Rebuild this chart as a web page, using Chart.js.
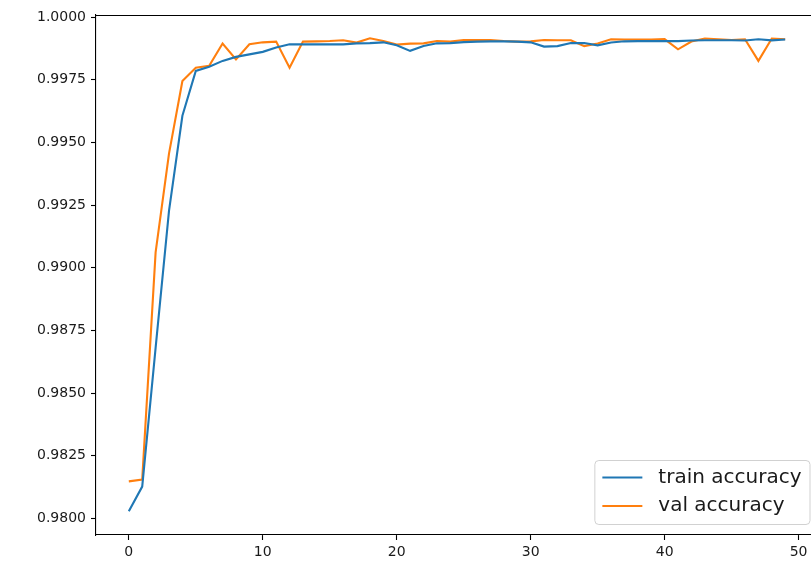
<!DOCTYPE html>
<html>
<head>
<meta charset="utf-8">
<script src="https://cdn.jsdelivr.net/npm/chart.js@4"></script>
<style>
  html, body { margin: 0; padding: 0; background: #fff; overflow: hidden; }
  #wrap { width: 830px; height: 570px; }
</style>
</head>
<body>
<div id="wrap"><canvas id="accChart" width="830" height="570"></canvas></div>
<script>
const epochs = [];
for (let i = 0; i < 50; i++) epochs.push(i);

const trainAcc = [
  0.98029, 0.98127, 0.98680, 0.99227, 0.99606, 0.99785, 0.99802, 0.99825, 0.99841, 0.99851,
  0.99861, 0.99878, 0.99891, 0.99891, 0.99891, 0.99891, 0.99891, 0.99895, 0.99896, 0.99899,
  0.99887, 0.99865, 0.99884, 0.99895, 0.99896, 0.99900, 0.99902, 0.99903, 0.99903, 0.99902,
  0.99899, 0.99882, 0.99884, 0.99896, 0.99896, 0.99887, 0.99898, 0.99903, 0.99904, 0.99904,
  0.99904, 0.99904, 0.99906, 0.99907, 0.99907, 0.99907, 0.99906, 0.99911, 0.99907, 0.99910
];

const valAcc = [
  0.98148, 0.98155, 0.99061, 0.99455, 0.99745, 0.99798, 0.99805, 0.99894, 0.99831, 0.99891,
  0.99899, 0.99902, 0.99798, 0.99902, 0.99903, 0.99904, 0.99907, 0.99898, 0.99915, 0.99904,
  0.99890, 0.99894, 0.99895, 0.99904, 0.99902, 0.99908, 0.99908, 0.99908, 0.99904, 0.99902,
  0.99903, 0.99908, 0.99907, 0.99907, 0.99884, 0.99894, 0.99911, 0.99910, 0.99910, 0.99910,
  0.99912, 0.99871, 0.99902, 0.99914, 0.99911, 0.99908, 0.99911, 0.99825, 0.99914, 0.99911
];

const xTicks = [0, 10, 20, 30, 40, 50];
const yTicks = [0.9800, 0.9825, 0.9850, 0.9875, 0.9900, 0.9925, 0.9950, 0.9975, 1.0000];
const seriesNames = ['train accuracy', 'val accuracy'];

const FONT = { family: 'DejaVu Sans', size: 14 };
const TEXT = '#1a1a1a';

// top / right spines and the matplotlib-like legend box
const framePlugin = {
  id: 'frame',
  afterDraw(chart) {
    const { ctx, chartArea: a } = chart;
    ctx.save();
    ctx.strokeStyle = '#000';
    ctx.lineWidth = 1.1;
    ctx.beginPath();
    ctx.moveTo(a.left, a.top + 0.5);
    ctx.lineTo(a.right, a.top + 0.5);
    ctx.lineTo(a.right, a.bottom);
    ctx.stroke();

    const fs = 20;
    ctx.font = fs + 'px DejaVu Sans';
    const pad = 8, handle = 40, gap = 16, rowH = 28.5;
    const textW = Math.max(...seriesNames.map(s => ctx.measureText(s).width));
    const w = pad + handle + gap + textW + pad;
    const h = 64;
    const right = a.right - 8.5, bottom = a.bottom - 11;
    const left = right - w, top = bottom - h;

    ctx.fillStyle = 'rgba(255,255,255,0.8)';
    ctx.strokeStyle = 'rgba(204,204,204,0.9)';
    ctx.lineWidth = 1;
    ctx.beginPath();
    ctx.roundRect(left + 0.5, top + 0.5, w, h, 4);
    ctx.fill();
    ctx.stroke();

    chart.data.datasets.forEach((ds, i) => {
      const cy = top + 17.5 + i * rowH;
      ctx.strokeStyle = ds.borderColor;
      ctx.lineWidth = 2.1;
      ctx.beginPath();
      ctx.moveTo(left + pad, cy);
      ctx.lineTo(left + pad + handle, cy);
      ctx.stroke();
      ctx.fillStyle = TEXT;
      ctx.textBaseline = 'middle';
      ctx.textAlign = 'left';
      ctx.fillText(ds.label, left + pad + handle + gap, cy);
    });
    ctx.restore();
  }
};

const ctx = document.getElementById('accChart').getContext('2d');
const accChart = new Chart(ctx, {
  type: 'line',
  data: {
    datasets: [
      {
        label: seriesNames[0],
        data: epochs.map((e, i) => ({ x: e, y: trainAcc[i] })),
        borderColor: '#1f77b4',
        borderWidth: 2.1,
        pointRadius: 0,
        tension: 0,
        fill: false
      },
      {
        label: seriesNames[1],
        data: epochs.map((e, i) => ({ x: e, y: valAcc[i] })),
        borderColor: '#ff7f0e',
        borderWidth: 2.1,
        pointRadius: 0,
        tension: 0,
        fill: false
      }
    ]
  },
  options: {
    responsive: false,
    animation: false,
    devicePixelRatio: 1,
    layout: { padding: { top: 15, right: 12, bottom: 0, left: 0 } },
    scales: {
      x: {
        type: 'linear',
        min: -2.45,
        max: 51.45,
        afterBuildTicks: scale => { scale.ticks = xTicks.map(v => ({ value: v })); },
        afterFit: scale => { scale.height = 35; },
        ticks: {
          autoSkip: false,
          maxRotation: 0,
          padding: 4,
          font: FONT,
          color: TEXT,
          callback: v => String(v)
        },
        grid: { drawOnChartArea: false, drawTicks: true, tickLength: 5, tickColor: '#000', tickWidth: 1.1 },
        border: { display: true, color: '#000', width: 1.1 }
      },
      y: {
        type: 'linear',
        min: 0.97934,
        max: 1.00008,
        afterBuildTicks: scale => { scale.ticks = yTicks.map(v => ({ value: v })); },
        afterFit: scale => { scale.width = 96; },
        ticks: {
          autoSkip: false,
          padding: 5,
          font: FONT,
          color: TEXT,
          callback: v => Number(v).toFixed(4)
        },
        grid: { drawOnChartArea: false, drawTicks: true, tickLength: 5, tickColor: '#000', tickWidth: 1.1 },
        border: { display: true, color: '#000', width: 1.1 }
      }
    },
    plugins: {
      legend: { display: false },
      tooltip: { enabled: false }
    }
  },
  plugins: [framePlugin]
});
</script>
</body>
</html>
